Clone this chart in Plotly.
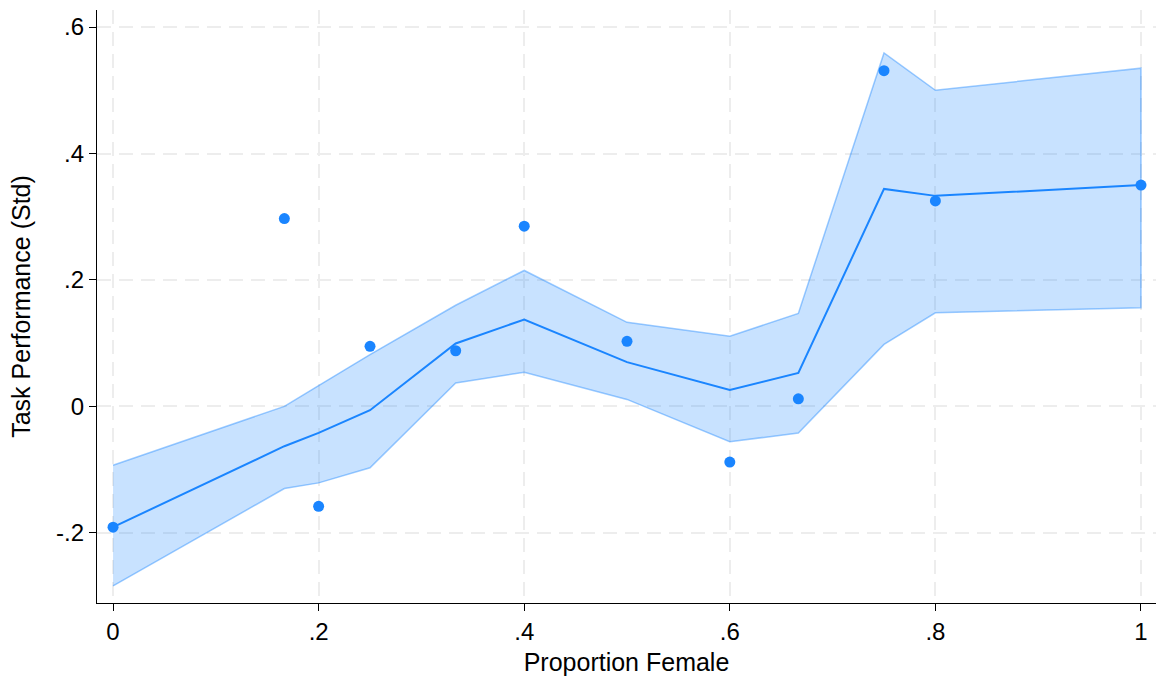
import plotly.graph_objects as go

# Data
prop_female = [0, 1/6, 0.2, 0.25, 1/3, 0.4, 0.5, 0.6, 2/3, 0.75, 0.8, 1.0]
observed = [-0.191, 0.297, -0.158, 0.095, 0.088, 0.285, 0.103, -0.088, 0.012, 0.531, 0.325, 0.350]
fitted = [-0.191, -0.063, -0.042, -0.006, 0.0995, 0.1375, 0.070, 0.026, 0.053, 0.344, 0.333, 0.350]
ci_upper = [-0.093, 0.000, 0.033, 0.082, 0.160, 0.215, 0.133, 0.111, 0.147, 0.559, 0.500, 0.535]
ci_lower = [-0.284, -0.130, -0.121, -0.097, 0.037, 0.054, 0.011, -0.056, -0.042, 0.098, 0.148, 0.156]

y_tickvals = [-0.2, 0, 0.2, 0.4, 0.6]
y_ticktext = ["-.2", "0", ".2", ".4", ".6"]
x_tickvals = [0, 0.2, 0.4, 0.6, 0.8, 1.0]
x_ticktext = ["0", ".2", ".4", ".6", ".8", "1"]

BLUE = "#1a85ff"

fig = go.Figure()
fig.add_trace(go.Scatter(
    x=prop_female + prop_female[::-1],
    y=ci_upper + ci_lower[::-1],
    fill="toself",
    fillcolor="rgba(26,133,255,0.24)",
    line=dict(color="rgba(26,133,255,0.42)", width=1.5),
    mode="lines",
    hoverinfo="skip",
    showlegend=False,
))
fig.add_trace(go.Scatter(
    x=prop_female, y=fitted, mode="lines",
    line=dict(color=BLUE, width=2), showlegend=False,
))
fig.add_trace(go.Scatter(
    x=prop_female, y=observed, mode="markers",
    marker=dict(color=BLUE, size=11), showlegend=False,
))

font_family = "Liberation Sans, Arial, sans-serif"
grid_dash = "14px,8px"
fig.update_layout(
    width=1156, height=682,
    margin=dict(l=97, r=0, t=10, b=79),
    plot_bgcolor="white", paper_bgcolor="white",
    font=dict(family=font_family, color="black", size=24),
    showlegend=False,
)
fig.update_xaxes(
    range=[-0.0156, 1.0146],
    tickvals=x_tickvals, ticktext=x_ticktext,
    showline=True, linecolor="black", linewidth=1.3,
    ticks="outside", ticklen=7, tickcolor="black", tickwidth=1.3,
    showgrid=True, gridcolor="#ededed", griddash=grid_dash, gridwidth=1.5,
    zeroline=False,
    title=dict(text="Proportion Female", font=dict(size=25), standoff=9),
    tickfont=dict(size=24),
)
fig.update_yaxes(
    range=[-0.311, 0.627],
    tickvals=y_tickvals, ticktext=y_ticktext,
    showline=True, linecolor="black", linewidth=1.3,
    ticks="outside", ticklen=7, tickcolor="black", tickwidth=1.3,
    showgrid=True, gridcolor="#ededed", griddash=grid_dash, gridwidth=1.5,
    zeroline=False,
    title=dict(text="Task Performance (Std)", font=dict(size=25), standoff=18),
    tickfont=dict(size=24),
)

fig.write_html("out.html")
